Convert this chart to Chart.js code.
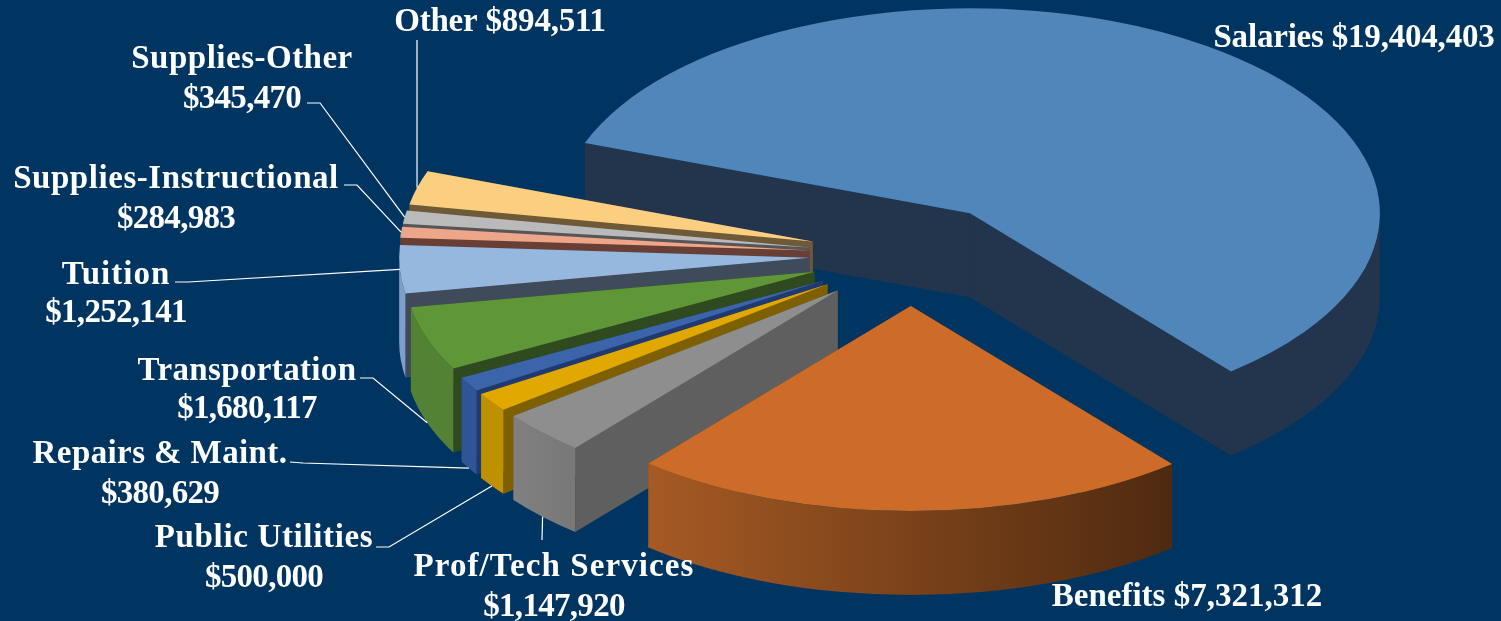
<!DOCTYPE html>
<html>
<head>
<meta charset="utf-8">
<title>Expenditures</title>
<script src="https://cdn.jsdelivr.net/npm/chart.js@4"></script>
<style>
  html, body { margin: 0; background: #003562; }
  canvas { display: block; }
</style>
</head>
<body>
<canvas id="myChart" width="1501" height="621"></canvas>
<script>
const categories = ['Salaries', 'Benefits', 'Prof/Tech Services', 'Public Utilities', 'Repairs & Maint.',
  'Transportation', 'Tuition', 'Supplies-Instructional', 'Supplies-Other', 'Other'];
const amounts = [19404403, 7321312, 1147920, 500000, 380629, 1680117, 1252141, 284983, 345470, 894511];

const topColors = ['#5086ba', '#cd6b28', '#8e8e8e', '#e1a800', '#3c64ab', '#5f9738', '#96b8df', '#eda68a', '#bababa', '#fbcf7f'];
const cutColors = ['#22354d', '#8a4a1e', '#5f5f5f', '#7f6000', '#1f3a70', '#2f4a1e', '#3f4b5b', '#693f35', '#55565a', '#6e5a36'];
const rimLeft = ['#22354d', '#a65a24', '#808080', '#bf9000', '#2f5597', '#548235', '#7f9fcb', '#c08a72', '#989898', '#c9a566'];
const rimRight = ['#22354d', '#4f2a10', '#787878', '#bf9000', '#2f5597', '#548235', '#7f9fcb', '#c08a72', '#989898', '#c9a566'];

// label text position: [centre x, first baseline, line gap (0 = one line)]
const labelSpots = [[1354, 47, 0], [1187, 606, 0], [554, 576, 40], [264, 547, 40], [160, 463, 40],
  [247, 380, 38], [116, 284, 38], [176, 188, 40], [242, 68, 40], [500, 31, 0]];
// extra letter spacing of the name line, the reference face is wider than ours
const nameTracking = [-0.2, 0, 1.1, 0.65, 0.4, 0.35, 1, 0.55, 0.5, -0.2];
// leader start and elbow next to the text, the other end sits on the slice
const leaderStarts = [null, null, [[542, 540]], [[376, 547], [389, 547]], [[290, 462], [303, 463]],
  [[360, 378], [373, 378]], [[175, 282], [188, 282]], [[344, 185], [357, 185]], [[307, 103], [320, 103]], [[417, 40]]];

const SQUASH = 0.5;
const DEPTH = 84;
const EXPLODE = 102;

const money = v => '$' + v.toLocaleString('en-US');

function sliceGeom(arc) {
  const mid = (arc.startAngle + arc.endAngle) / 2;
  return {
    mid,
    x: arc.x + Math.cos(mid) * EXPLODE,
    y: arc.y + Math.sin(mid) * EXPLODE,
    r: arc.outerRadius
  };
}

const pie3d = {
  id: 'pie3d',
  beforeDatasetsDraw(chart) {
    const ctx = chart.ctx;
    const arcs = chart.getDatasetMeta(0).data;
    const cy = arcs[0].y;
    const d = DEPTH / SQUASH;
    const order = arcs.map((a, i) => i).sort((p, q) =>
      Math.sin(sliceGeom(arcs[p]).mid) - Math.sin(sliceGeom(arcs[q]).mid));

    ctx.save();
    ctx.translate(0, cy);
    ctx.scale(1, SQUASH);
    ctx.translate(0, -cy);

    order.forEach(i => {
      const arc = arcs[i];
      const g = sliceGeom(arc);
      const wall = a => {
        const px = g.x + Math.cos(a) * g.r, py = g.y + Math.sin(a) * g.r;
        ctx.beginPath();
        ctx.moveTo(g.x, g.y);
        ctx.lineTo(px, py);
        ctx.lineTo(px, py + d);
        ctx.lineTo(g.x, g.y + d);
        ctx.closePath();
        ctx.fillStyle = cutColors[i];
        ctx.fill();
      };
      // back facing cut first so the front one covers it
      const startFront = Math.sin(arc.startAngle - Math.PI / 2) > 0;
      wall(startFront ? arc.endAngle : arc.startAngle);
      wall(startFront ? arc.startAngle : arc.endAngle);

      // outer rim, only the near half shows
      for (let k = -1; k < 3; k++) {
        const a0 = Math.max(arc.startAngle, k * 2 * Math.PI);
        const a1 = Math.min(arc.endAngle, k * 2 * Math.PI + Math.PI);
        if (a1 <= a0) continue;
        const x0 = g.x + Math.cos(arc.startAngle) * g.r;
        const x1 = g.x + Math.cos(arc.endAngle) * g.r;
        const grad = ctx.createLinearGradient(Math.min(x0, x1), 0, Math.max(x0, x1), 0);
        grad.addColorStop(0, rimLeft[i]);
        grad.addColorStop(1, rimRight[i]);
        ctx.beginPath();
        ctx.arc(g.x, g.y, g.r, a0, a1);
        ctx.arc(g.x, g.y + d, g.r, a1, a0, true);
        ctx.closePath();
        ctx.fillStyle = grad;
        ctx.fill();
      }

      // top face, the library's own arc
      ctx.save();
      ctx.translate(g.x - arc.x, g.y - arc.y);
      arc.draw(ctx);
      ctx.restore();
    });
    ctx.restore();
    return false;
  },
  afterDraw(chart) {
    const ctx = chart.ctx;
    const arcs = chart.getDatasetMeta(0).data;
    ctx.save();
    ctx.fillStyle = '#ffffff';
    ctx.strokeStyle = '#ffffff';
    ctx.lineWidth = 1.2;
    ctx.textAlign = 'center';
    ctx.font = 'bold 33px "Liberation Serif"';
    categories.forEach((name, i) => {
      const [x, y, gap] = labelSpots[i];
      ctx.letterSpacing = nameTracking[i] + 'px';
      if (gap) {
        ctx.fillText(name, x, y);
        ctx.letterSpacing = '-0.7px';
        ctx.fillText(money(amounts[i]), x, y + gap);
      } else {
        ctx.fillText(name + ' ' + money(amounts[i]), x, y);
      }
      if (!leaderStarts[i]) return;
      const g = sliceGeom(arcs[i]);
      const sin = Math.sin(g.mid);
      const ax = g.x + Math.cos(g.mid) * g.r;
      const ay = arcs[i].y + (g.y - arcs[i].y + sin * g.r) * SQUASH + (sin > 0.2 ? DEPTH : 0);
      ctx.beginPath();
      leaderStarts[i].forEach((p, n) => n ? ctx.lineTo(p[0], p[1]) : ctx.moveTo(p[0], p[1]));
      ctx.lineTo(ax, ay);
      ctx.stroke();
    });
    ctx.restore();
  }
};

new Chart(document.getElementById('myChart'), {
  type: 'pie',
  data: {
    labels: categories,
    datasets: [{
      data: amounts,
      backgroundColor: topColors,
      borderWidth: 0
    }]
  },
  options: {
    responsive: false,
    animation: false,
    rotation: 290.1,
    radius: 410,
    layout: { padding: { left: 321, bottom: 111 } },
    plugins: { legend: { display: false }, tooltip: { enabled: false } }
  },
  plugins: [pie3d]
});
</script>
</body>
</html>
